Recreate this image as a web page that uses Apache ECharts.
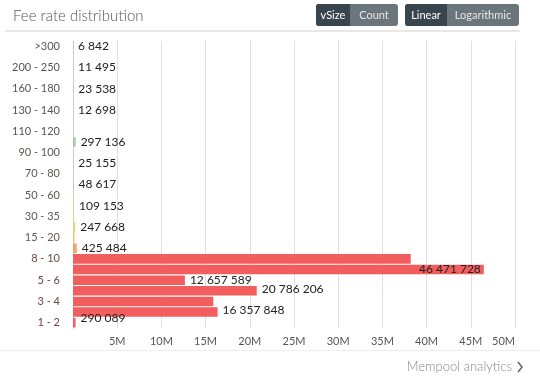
<!DOCTYPE html>
<html>
<head>
<meta charset="utf-8">
<script src="https://cdn.jsdelivr.net/npm/echarts@6/dist/echarts.min.js"></script>
<style>
html,body{margin:0;padding:0;background:#fff;}
#c{width:540px;height:379px;}
</style>
</head>
<body>
<div id="c"></div>
<script>
// Fee-rate ranges (bottom to top)
var categories = ["1 - 2","2 - 3","3 - 4","4 - 5","5 - 6","6 - 8","8 - 10","10 - 15","15 - 20","20 - 30",
  "30 - 35","35 - 50","50 - 60","60 - 70","70 - 80","80 - 90","90 - 100","100 - 110","110 - 120","120 - 130",
  "130 - 140","140 - 160","160 - 180","180 - 200","200 - 250","250 - 300",">300"];
// vSize per range
var vsizes = [290089,16357848,15870000,20786206,12657589,46471728,38200000,425484,180000,247668,
  90000,109153,60000,48617,30000,25155,40000,297136,20000,15000,
  12698,18000,23538,9000,11495,5000,6842];
// which value labels are visible in the reference
var labelShown = [1,1,0,1,1,1,0,1,0,1, 0,1,0,1,0,1,0,1,0,0, 1,0,1,0,1,0,1];
var barColors = ["#f25d5d","#f25d5d","#f25d5d","#f25d5d","#f25d5d","#f25d5d","#f25d5d","#f1a766","#eec86a","#e6d36f",
  "#d8d878","#c8d680","#b8d488","#add18c","#a6cf90","#a2cd94","#9fcb98","#a4cba2","#96c6a8","#8fc2ad",
  "#88bfb2","#83bbb6","#7eb7ba","#79b3be","#75afc2","#71abc6","#6da7ca"];
var labelColors = ["#6a4444","#6a4444","#6a4444","#6a4444","#6a4444","#6a4444","#6a4848","#615a52","#615a52","#5e5a52",
  "#5e5a52","#5a5a52","#585a52","#555a50","#555a50","#555a50","#555a50","#555a50","#555555","#555555",
  "#555555","#555555","#555555","#555555","#555555","#555555","#555555"];

function fmt(v){ return String(v).replace(/\B(?=(\d{3})+(?!\d))/g, " "); }

var data = vsizes.map(function(v, i){
  var lbl = { show: !!labelShown[i] };
  if (i === 5) { lbl.position = 'insideRight'; lbl.distance = 3; }
  if (i === 0) { lbl.offset = [0, -5]; }
  if (i === 1) { lbl.offset = [0, -2]; }
  if (i === 3) { lbl.offset = [0, -2]; }
  return { value: v, itemStyle: { color: barColors[i] }, label: lbl };
});

var chart = echarts.init(document.getElementById('c'), null, {renderer: 'canvas'});
var FONT = 'Lato';
chart.setOption({
  animation: false,
  textStyle: { fontFamily: FONT },
  title: {
    text: 'Fee rate distribution', left: 8, top: 4,
    textStyle: { fontFamily: FONT, fontSize: 15, fontWeight: 300, color: '#555' }
  },
  grid: { left: 73, right: 25, top: 41, bottom: 51, containLabel: false },
  xAxis: {
    type: 'value', min: 0, max: 50e6, interval: 5e6,
    axisLine: { show: false }, axisTick: { show: false },
    splitLine: { show: true, lineStyle: { color: '#e0e0e0', width: 1 } },
    axisLabel: {
      showMinLabel: false, alignMaxLabel: 'right', margin: 8,
      fontFamily: FONT, fontSize: 11, color: '#555',
      formatter: function(v){ return (v/1e6) + 'M'; }
    }
  },
  yAxis: {
    type: 'category', data: categories,
    axisLine: { show: true, lineStyle: { color: '#d0d0d0' } },
    axisTick: { show: false },
    axisLabel: {
      interval: 1, margin: 13, fontFamily: FONT, fontSize: 11,
      color: function(val, idx){ return labelColors[categories.indexOf(val)]; }
    }
  },
  series: [{
    type: 'bar', data: data, barCategoryGap: '10%',
    label: {
      position: 'right', distance: 5, fontFamily: FONT, fontSize: 12, color: '#222',
      formatter: function(p){ return fmt(p.value); }
    }
  }],
  graphic: [
    { type: 'rect', shape: { x: 5, y: 30, width: 515, height: 2 }, style: { fill: '#e8e8e8' }, silent: true },
    { type: 'rect', shape: { x: 316, y: 4, width: 82, height: 22, r: 3 }, style: { fill: '#6b767c' } },
    { type: 'rect', shape: { x: 316, y: 4, width: 34, height: 22, r: [3,0,0,3] }, style: { fill: '#38454d' } },
    { type: 'text', x: 333, y: 15, style: { text: 'vSize', fill: '#fff', font: '11px Lato', align: 'center', verticalAlign: 'middle' } },
    { type: 'text', x: 374, y: 15, style: { text: 'Count', fill: '#e6e6e6', font: '11px Lato', align: 'center', verticalAlign: 'middle' } },
    { type: 'rect', shape: { x: 405, y: 4, width: 114, height: 22, r: 3 }, style: { fill: '#6b767c' } },
    { type: 'rect', shape: { x: 405, y: 4, width: 42, height: 22, r: [3,0,0,3] }, style: { fill: '#38454d' } },
    { type: 'text', x: 426, y: 15, style: { text: 'Linear', fill: '#fff', font: '11px Lato', align: 'center', verticalAlign: 'middle' } },
    { type: 'text', x: 483, y: 15, style: { text: 'Logarithmic', fill: '#e6e6e6', font: '11px Lato', align: 'center', verticalAlign: 'middle' } },
    { type: 'rect', shape: { x: 0, y: 350, width: 540, height: 1 }, style: { fill: '#eeeeee' } },
    { type: 'text', x: 512, y: 367, style: { text: 'Mempool analytics', fill: '#888', font: '300 13px Lato', align: 'right', verticalAlign: 'middle' } },
    { type: 'polyline', shape: { points: [[518,362],[522,367],[518,372]] }, style: { stroke: '#666', lineWidth: 1.5, fill: null } }
  ]
});
</script>
</body>
</html>
